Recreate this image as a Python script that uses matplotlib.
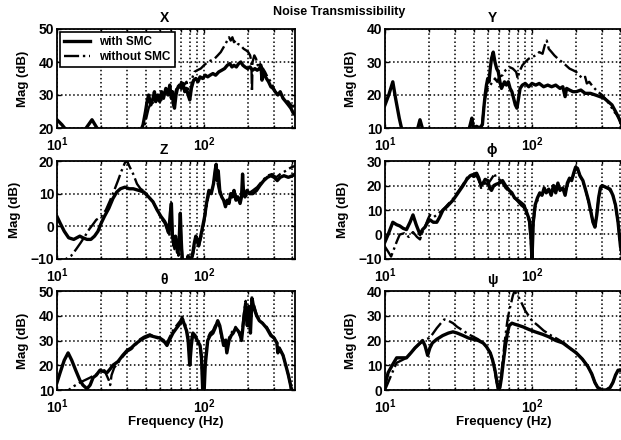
import numpy as np
import matplotlib
matplotlib.use("Agg")
import matplotlib.pyplot as plt
from matplotlib.ticker import FixedLocator, NullLocator, FixedFormatter

plt.rcParams['font.family'] = ['Liberation Sans', 'DejaVu Sans']
plt.rcParams['font.weight'] = 'bold'
plt.rcParams['mathtext.fontset'] = 'custom'
plt.rcParams['mathtext.rm'] = 'Liberation Sans:bold'
plt.rcParams['mathtext.bf'] = 'Liberation Sans:bold'

# (frequency Hz, magnitude dB) pairs for each channel
x_with = [(10, 22.5), (10.8, 21), (11.5, 19.5), (15.5, 19.5), (17.3, 22.5), (19, 19.5), (37, 19), (38.5, 21),
          (40, 25), (41, 28), (42, 30), (43.5, 27), (45, 29), (46, 31), (47, 28), (48.5, 30), (50, 28),
          (51.5, 31), (53, 29), (55, 32), (57, 30), (58.5, 33), (60, 29), (61, 31), (62, 27), (63, 26),
          (64.5, 30), (66, 32), (68, 33), (70, 32), (72, 33.5), (74, 31), (76, 32), (78, 30), (80, 28.5),
          (82, 32), (85, 34.5), (88, 35), (91, 34), (94, 35.5), (98, 35), (102, 36), (106, 35.5), (110, 36),
          (115, 36.5), (120, 36), (126, 37), (132, 37.5), (138, 38), (144, 39), (150, 39.5), (155, 38.5),
          (160, 39), (166, 38.5), (172, 39.5), (178, 40), (184, 39), (190, 38.5), (198, 38), (206, 38.5),
          (214, 37.5), (222, 38), (230, 37.5), (238, 38), (244, 39), (248, 34.5), (250, 37), (258, 36),
          (266, 35), (275, 34), (285, 32.5), (295, 32), (305, 31), (318, 30), (330, 31), (345, 29), (360, 28),
          (375, 27), (390, 26), (405, 24.5), (416, 24)]
x_without = [(10, 18), (37, 18), (39, 20), (40.5, 23), (42, 26), (44, 28), (46, 27), (48, 29), (50, 30),
             (52, 28), (55, 31), (58, 32), (60, 30), (62, 27), (64, 31), (66, 33), (68, 32), (70, 34), (73, 33),
             (76, 34), (79, 31), (81, 30), (83, 35), (86, 37), (90, 37.5), (95, 38), (100, 39), (106, 40),
             (112, 40.5), (118, 41), (124, 42), (130, 43), (136, 44.5), (142, 46), (148, 47.5), (152, 46.5),
             (156, 47.5), (160, 46), (165, 46.5), (170, 45.5), (178, 45), (186, 44), (194, 43.5), (200, 43),
             (206, 42), (210, 40), (212, 31), (214, 40), (220, 42), (226, 41), (232, 39), (238, 40),
             (245, 38.5), (252, 38), (260, 37), (270, 35.5), (280, 34.5), (292, 33), (305, 31), (318, 30),
             (330, 30.5), (345, 29), (360, 28.5), (375, 28), (390, 27), (405, 26.5), (416, 27)]

y_with = [(10, 17), (10.6, 20), (11.3, 24), (11.8, 19), (12.5, 13), (13.1, 9), (16.5, 9), (17.3, 12.5),
          (18.2, 9), (37, 9), (38, 11), (39, 13), (40, 10), (42, 10.5), (44, 10), (46, 11), (47, 16), (48, 20),
          (49, 23), (50, 25), (51, 24), (52, 28), (53, 31), (54.5, 33), (56, 30), (57.5, 28), (59, 27),
          (60.5, 24), (62, 22), (63.5, 23), (65, 24), (67, 23), (69, 24), (71, 22), (73, 21), (75, 19),
          (77, 17), (79, 16), (81, 19), (83, 22), (86, 23), (90, 23.5), (95, 22.5), (100, 23.5), (106, 23),
          (112, 23.5), (120, 22.5), (128, 23), (136, 22.5), (145, 23), (155, 22), (162, 22.5), (168, 19.5),
          (172, 22), (180, 21.5), (190, 21), (200, 21), (215, 21.5), (230, 20.5), (250, 20.5), (270, 20),
          (290, 19.5), (310, 19), (330, 18), (350, 17), (370, 15), (390, 13), (416, 10)]
y_without = [(10, 9), (45, 9), (46, 12), (47, 16), (48, 19), (49, 21), (50, 22), (52, 23), (54, 24), (56, 25),
             (58, 24), (60, 25.5), (63, 26), (66, 27.5), (70, 28.5), (74, 28), (78, 27), (80, 25), (82, 27),
             (86, 29), (90, 30), (95, 31), (100, 31.5), (106, 32), (112, 33), (118, 32.5), (122, 35),
             (126, 36.5), (130, 34), (136, 33), (142, 32), (150, 31), (160, 30), (170, 29), (180, 28),
             (190, 27.5), (200, 27), (210, 26), (220, 25), (230, 25.5), (236, 23.5), (245, 24), (260, 22.5),
             (280, 21), (300, 20), (320, 18.5), (340, 17), (360, 15), (380, 14), (400, 12), (416, 10)]

z_with = [(10, 3), (10.5, 1), (11.2, -1.5), (12, -3.5), (13, -4), (14.3, -3), (15, -3.5), (16, -4), (17, -4),
          (18, -3), (19, -1.5), (20, 1), (21, 3), (22.5, 5.5), (24, 8.5), (25.5, 10.5), (27, 11.5), (29, 12),
          (31, 11.5), (33, 11.5), (36, 11), (39, 10.5), (42, 9), (45, 7.5), (48, 5), (51, 3), (54, 1.5),
          (56, 0), (57.5, -2), (59, 4), (60, 7), (61, -3), (62.5, -6), (64, -3), (66, -8), (67.5, -6), (69, 4),
          (70, -4), (71, -10), (73, -12), (76, -11), (78, -9), (80, -12), (82, -10), (84, -8), (86, -5),
          (88, -3), (90, -4), (92, -6), (94, -4), (96, -2), (98, 0), (101, 3), (104, 7), (108, 11), (112, 10),
          (116, 13), (119, 17), (121, 19), (123, 14), (125, 17), (128, 11), (132, 9), (136, 8), (140, 6),
          (144, 8), (148, 7), (152, 10), (156, 9), (160, 11), (165, 8), (170, 9), (176, 7), (180, 9), (183, 16),
          (186, 10), (190, 9), (196, 11), (204, 10), (215, 10), (228, 11), (240, 12.5), (255, 14), (270, 15),
          (285, 15.5), (300, 15), (315, 14), (330, 15), (350, 15.5), (375, 15), (400, 15.5), (416, 16)]
z_without = [(10, -13), (10.8, -11), (11.5, -10), (12.5, -9), (13.5, -7), (14.5, -5), (15.5, -3), (16.5, -1),
             (17.5, 0.5), (18.5, 2), (20, 3), (21.5, 5), (23, 8), (24.5, 11), (26, 14), (27.5, 17), (29, 19.5),
             (30, 20), (31, 18.5), (33, 16), (35, 13), (37, 11.5), (40, 10.5), (42, 9), (45, 7.5), (48, 5),
             (51, 2.5), (54, 1), (56, -1), (58, -3), (60, 5), (61, -4), (63, -7), (65, -5), (67, -9), (69, 3),
             (70, -5), (72, -11), (76, -12), (80, -11), (84, -9), (88, -4), (92, -6), (96, -3), (100, 1),
             (104, 6), (108, 10), (113, 11), (117, 14), (120, 18), (124, 13), (128, 10), (134, 9), (140, 7),
             (146, 8), (152, 9), (160, 10), (168, 9), (176, 8), (184, 12), (190, 9), (200, 10), (215, 11),
             (230, 12), (250, 14), (270, 15.5), (290, 16), (310, 15), (330, 16), (360, 17), (390, 18),
             (416, 18.5)]

phi_with = [(10, -3), (10.5, 0), (11.3, 5), (12, 4), (12.6, 3.5), (13.3, 2.5), (14, 2), (14.8, 5), (15.5, 8),
            (16.3, 4), (17.3, 0), (18, 2), (18.7, 3), (19.5, 5), (20.2, 6), (21.3, 5), (22.5, 5), (23.5, 7),
            (24.8, 10), (26.5, 11.5), (29, 14), (31, 16.5), (34, 20), (36, 22.5), (38, 24), (40, 24.5),
            (42, 25), (43.5, 23), (45, 20), (46.5, 21), (48, 22.5), (50, 22), (51.5, 19), (53, 18), (55, 20),
            (57, 20.5), (60, 21), (63, 22), (66, 20), (70, 18), (73, 17), (76, 15), (80, 14), (84, 13), (88, 12),
            (92, 9), (96, 6), (98, 0), (100, -10), (102, 5), (105, 12), (109, 15), (113, 17), (117, 16),
            (121, 19), (125, 17), (130, 18.5), (135, 16), (140, 20), (145, 17), (150, 21), (155, 18), (162, 19),
            (168, 16), (174, 21), (180, 23), (186, 22), (192, 25), (198, 27.5), (204, 27), (212, 24), (222, 22),
            (232, 18), (242, 14), (252, 9), (260, 5), (268, 3), (276, 8), (284, 15), (292, 19), (300, 20),
            (312, 19.5), (325, 19), (340, 18.5), (355, 16), (370, 12), (385, 5), (400, -5), (416, -10)]
phi_without = [(10, -5), (10.5, -7), (11, -9), (11.5, -6), (12, -3), (12.6, 0), (13.5, 0.5), (14.5, -1),
               (15.5, 1), (16.5, -1), (17.3, -2), (18, 1), (18.7, 3), (19.5, 6), (20.2, 8), (21.3, 7), (22.5, 8),
               (23.5, 9), (24.8, 10), (26.5, 12), (29, 14.5), (31, 17), (34, 20.5), (36, 23), (38, 24.5),
               (40, 23.5), (42, 24), (43.5, 22), (45, 19), (46.5, 20), (48, 21), (50, 20.5), (52, 22),
               (54, 23.5), (55.5, 25), (57, 23), (60, 22.5), (63, 21), (66, 19), (70, 17.5), (73, 16), (76, 15),
               (80, 13.5), (84, 12), (88, 11), (92, 8), (96, 5), (98, -2), (100, -9), (102, 4), (105, 11),
               (109, 14), (113, 16.5), (117, 16.5), (121, 18), (125, 17.5), (130, 18), (135, 16.5), (140, 19),
               (145, 17.5), (150, 20), (155, 18.5), (162, 19), (168, 17), (174, 20), (180, 22.5), (186, 22),
               (192, 24.5), (198, 27), (204, 26.5), (212, 24), (222, 21.5), (232, 18), (242, 13.5), (252, 9),
               (260, 5), (268, 3.5), (276, 8.5), (284, 15), (292, 18.5), (300, 19.5), (312, 19.5), (325, 19),
               (340, 18), (355, 16), (370, 12), (385, 5), (400, -5), (416, -10)]

theta_with = [(10, 13), (10.5, 17), (11.2, 22), (11.9, 25), (12.6, 22), (13.4, 18), (14.3, 14), (15, 12),
              (16, 10.5), (16.8, 12), (17.6, 15), (18.5, 16), (19.6, 18), (20.7, 17.5), (21.9, 17), (23, 18.5),
              (24, 20), (26, 21.5), (28, 24), (30, 26), (32, 27), (34, 28.5), (36.7, 30), (39, 31), (42.8, 32),
              (46, 31.5), (50, 31), (53, 30), (56, 28), (58, 30), (61.5, 33), (65, 35), (69, 37), (72, 38),
              (74, 36), (76, 34), (78, 30), (80, 20), (82, 28), (84, 33), (87, 32), (90, 30), (94, 28), (96, 24),
              (98, 10), (100, 8), (102, 20), (106, 30), (110, 32), (115, 33), (119, 35), (124, 38), (128, 36),
              (132, 32), (136, 28), (140, 30), (143, 25), (148, 30), (153, 32), (158, 33), (164, 35), (170, 34),
              (175, 33), (180, 30), (186, 38), (192, 45), (197, 36), (202, 43), (207, 33), (212, 47), (217, 44),
              (222, 42), (228, 40), (238, 38), (250, 37), (267, 35), (285, 32), (300, 31), (313, 29), (318, 25),
              (325, 27), (345, 24), (360, 20), (375, 16), (388, 12), (395, 9)]
theta_without = [(10, 8), (11, 9), (12, 10), (13, 11.5), (14.3, 13), (15.5, 14), (16.8, 15), (18, 16),
                 (19.6, 17), (21, 18), (22.5, 14), (23, 12), (23.5, 16), (24.5, 19), (26, 21), (28, 23.5),
                 (30, 25.5), (32, 26.5), (34, 28), (36.7, 30.5), (39, 31.5), (42.8, 32.5), (46, 31.5),
                 (50, 30.5), (53, 29.5), (56, 29), (58, 31), (61.5, 34), (65, 36), (69, 38), (71, 39.5), (74, 37),
                 (76, 35), (78, 31), (80, 22), (82, 30), (84, 33), (87, 31.5), (90, 29), (94, 27), (96, 22),
                 (98, 12), (100, 9), (102, 22), (106, 31), (110, 33), (115, 34), (119, 36), (124, 37), (128, 35),
                 (132, 31), (136, 29), (140, 31), (143, 27), (148, 31), (153, 33), (158, 34), (164, 35.5),
                 (170, 34), (175, 32), (180, 31), (186, 40), (192, 46), (197, 38), (202, 44), (207, 35),
                 (212, 48), (217, 45), (222, 43), (228, 40.5), (238, 38.5), (250, 37), (267, 35.5), (285, 32.5),
                 (300, 31), (313, 29.5), (325, 27), (345, 24), (360, 20), (375, 16), (388, 12), (395, 9)]

psi_with = [(10, 2), (10.5, 7), (11.2, 10), (12, 13), (13, 13), (14, 13), (15, 15), (16, 17), (17, 18.5),
            (18, 20), (18.7, 18), (19.5, 14), (20.2, 17), (21, 19), (22.5, 20.5), (24.7, 22), (27, 23),
            (29, 23.5), (31, 23), (34, 22), (37, 21), (40, 20.5), (43, 20), (46.5, 19), (49, 17.5), (52, 15),
            (54, 12), (56, 8), (57.5, 4), (59, 0), (60.5, 1), (62, 5), (64, 12), (66, 18), (68, 23), (70, 26),
            (73, 27), (77, 26.5), (82, 26), (87, 25.5), (95, 24.5), (105, 23.5), (118, 22.5), (130, 21.5),
            (145, 20), (162, 19), (180, 17), (200, 15), (220, 12.5), (240, 9.5), (255, 6.5), (268, 3), (280, 1),
            (300, 0), (320, 0), (340, 1), (355, 3), (370, 6), (385, 8), (416, 8)]
psi_without = [(10, 0), (10.5, 3), (11.2, 7), (12, 11), (13, 12), (14, 13), (15, 15), (16, 17), (17, 18.5),
               (18, 19.5), (19, 20.5), (20, 21), (21, 22.5), (22.5, 25), (24, 27), (25.3, 28.5), (27, 28),
               (29, 27), (31, 25.5), (34, 24), (37, 22.5), (40, 21.5), (43, 20.5), (46.5, 19), (49, 17.5),
               (52, 15), (54, 12), (56, 7), (57.5, 3), (59, 1), (60.5, 2), (62, 7), (64, 15), (66, 22), (68, 28),
               (70, 32), (72, 35), (74, 38), (76, 40), (78, 39), (82, 37), (86, 34.5), (90, 32), (95, 30),
               (100, 28), (110, 26), (120, 24), (135, 22), (150, 20.5), (165, 19), (180, 17), (200, 15),
               (220, 12.5), (240, 9.5), (255, 6.5), (268, 3), (280, 1), (300, 0), (320, 0), (340, 1), (355, 3),
               (370, 6), (385, 8), (416, 8)]

titles = ['X', 'Y', 'Z', '\u03d5', '\u03b8', '\u03c8']
ylims = [(20, 50), (10, 40), (-10, 20), (-10, 30), (10, 50), (0, 40)]
yticks = [[20, 30, 40, 50], [10, 20, 30, 40], [-10, 0, 10, 20],
          [-10, 0, 10, 20, 30], [10, 20, 30, 40, 50], [0, 10, 20, 30, 40]]
series = [(x_with, x_without), (y_with, y_without), (z_with, z_without),
          (phi_with, phi_without), (theta_with, theta_without), (psi_with, psi_without)]

W, H = 621, 440
fig = plt.figure(figsize=(W / 100, H / 100), dpi=100)

# axes boxes in pixels: (left, right) per column, (top, bottom) per row
col_x = [(57, 295), (385, 623)]
row_y = [(29, 128), (161, 259), (291, 390)]

minor_grid = [20, 30, 40, 50, 60, 70, 80, 90, 200, 300, 400]

for i, (title, ylim, yt, (wth, wout)) in enumerate(zip(titles, ylims, yticks, series)):
    r, c = divmod(i, 2)
    x0, x1 = col_x[c]
    y0, y1 = row_y[r]
    ax = fig.add_axes([x0 / W, 1 - y1 / H, (x1 - x0) / W, (y1 - y0) / H])

    fw, mw = np.array(wth).T
    fo, mo = np.array(wout).T
    ax.plot(fw, mw, color='k', lw=2.4, ls='-', label='with SMC', zorder=3)
    ax.plot(fo, mo, color='k', lw=1.7, ls='-.', label='without SMC', zorder=3)

    ax.set_xscale('log')
    ax.set_xlim(10, 416)
    ax.set_ylim(*ylim)
    ax.xaxis.set_major_locator(FixedLocator([10, 100]))
    ax.xaxis.set_major_formatter(FixedFormatter([r'$10^{1}$', r'$10^{2}$']))
    ax.xaxis.set_minor_locator(FixedLocator(minor_grid))
    ax.yaxis.set_major_locator(FixedLocator(yt))
    ax.yaxis.set_minor_locator(NullLocator())

    ax.grid(True, which='major', axis='both', color='k', ls=':', lw=1.1)
    ax.grid(True, which='minor', axis='x', color='k', ls=':', lw=1.1)
    ax.tick_params(which='both', direction='in', length=3, width=1, labelsize=10,
                   top=True, right=True)
    ax.tick_params(axis='y', pad=2)
    ax.tick_params(axis='x', pad=5.5)
    ax.tick_params(which='minor', length=2)
    for lbl in ax.get_xticklabels() + ax.get_yticklabels():
        lbl.set_fontweight('bold')
    for s in ax.spines.values():
        s.set_linewidth(1.3)

    ax.set_title(title, fontsize=10, fontweight='bold', pad=5, x=0.45)
    ax.set_ylabel('Mag (dB)', fontsize=9.5, fontweight='bold', labelpad=7)
    if r == 2:
        ax.set_xlabel('Frequency (Hz)', fontsize=9.5, fontweight='bold', labelpad=0)

    if i == 0:
        leg = ax.legend(loc='upper left', frameon=True, fancybox=False,
                        handlelength=2.2, handletextpad=0.8, borderpad=0.35,
                        borderaxespad=0.25, labelspacing=0.25, prop={'weight': 'bold', 'size': 8.5})
        leg.get_frame().set_edgecolor('k')
        leg.get_frame().set_linewidth(1.2)
        leg.get_frame().set_alpha(1)

fig.text(339 / W, 1 - 12 / H, 'Noise Transmissibility', ha='center', va='center',
         fontsize=9, fontweight='bold')

fig.savefig('out.png', dpi=100)
